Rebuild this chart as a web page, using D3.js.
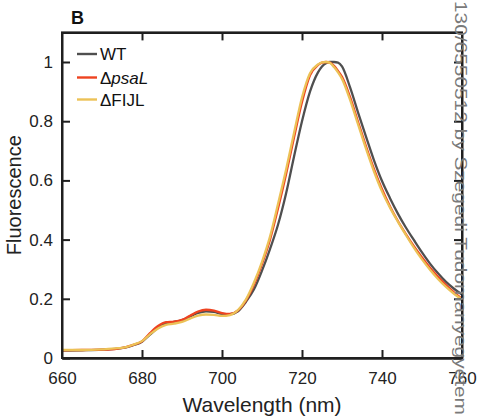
<!DOCTYPE html>
<html>
<head>
<meta charset="utf-8">
<script src="https://cdn.jsdelivr.net/npm/d3@7"></script>
<style>
  html, body { margin: 0; padding: 0; background: #fff; }
  svg { display: block; font-family: "Liberation Sans", Arial, sans-serif; }
</style>
</head>
<body>
<svg id="chart" width="481" height="417"></svg>
<script>
// ---- data ----
const wavelengths = [660,665,670,674,676,678,680,682,684,686,688,690,692,694,696,698,700,702,704,706,708,710,712,714,716,718,720,722,724,725,726,727,728,729,730,732,734,736,738,740,742,744,746,748,750,752,754,756,758,760];
const wt    = [0.025,0.026,0.028,0.032,0.036,0.044,0.055,0.079,0.102,0.117,0.122,0.128,0.140,0.152,0.158,0.156,0.149,0.148,0.158,0.190,0.232,0.295,0.368,0.450,0.555,0.680,0.800,0.900,0.965,0.985,0.996,1.000,1.000,0.998,0.985,0.915,0.830,0.748,0.668,0.598,0.540,0.487,0.440,0.398,0.357,0.319,0.286,0.257,0.234,0.214];
const psaL  = [0.026,0.027,0.028,0.032,0.037,0.045,0.056,0.084,0.108,0.121,0.123,0.129,0.143,0.157,0.163,0.160,0.152,0.149,0.161,0.195,0.248,0.318,0.400,0.505,0.620,0.745,0.865,0.955,0.990,0.998,1.000,0.998,0.987,0.970,0.950,0.882,0.798,0.715,0.638,0.570,0.512,0.462,0.418,0.377,0.340,0.305,0.274,0.246,0.222,0.200];
const fijl  = [0.027,0.027,0.029,0.033,0.037,0.046,0.057,0.080,0.100,0.112,0.116,0.122,0.133,0.143,0.147,0.146,0.142,0.145,0.162,0.198,0.255,0.325,0.410,0.520,0.635,0.760,0.880,0.962,0.992,0.999,1.000,0.997,0.983,0.965,0.943,0.873,0.790,0.707,0.630,0.563,0.508,0.460,0.415,0.372,0.333,0.298,0.267,0.240,0.217,0.197];
const seriesNames = ["WT", "psaL", "FIJL"];
const xTicks = [660, 680, 700, 720, 740, 760];
const yTicks = [0, 0.2, 0.4, 0.6, 0.8, 1];
const yTickLabels = ["0", "0.2", "0.4", "0.6", "0.8", "1"];
const watermark = "130/6550512 by Szegedi Tudomanyegyetem";

const colors = { WT: "#4f4f4f", psaL: "#ee4320", FIJL: "#ecc257" };
const seriesData = { WT: wt, psaL: psaL, FIJL: fijl };

const svg = d3.select("#chart");
const L = 62, R = 462, T = 32.4, B = 358;
const x = d3.scaleLinear().domain([660, 760]).range([L, R]);
const y = d3.scaleLinear().domain([0, 1.1]).range([B, T]);

// curves
const line = d3.line()
  .x((d, i) => x(wavelengths[i]))
  .y(d => y(d))
  .curve(d3.curveMonotoneX);

const curves = svg.append("g");
seriesNames.forEach(name => {
  curves.append("path")
    .attr("d", line(seriesData[name]))
    .attr("fill", "none")
    .attr("stroke", colors[name])
    .attr("stroke-width", 2.3)
    .attr("stroke-linejoin", "round");
});

// axes
const axisColor = "#1f1f1f";
function styleAxis(g) {
  g.select(".domain").attr("stroke", axisColor).attr("stroke-width", 2);
  g.selectAll(".tick line").attr("stroke", axisColor).attr("stroke-width", 2);
  g.selectAll(".tick text").attr("fill", "#222").style("font-size", "17px")
    .style("font-family", "'Liberation Sans', Arial, sans-serif");
}

const innerX = xTicks.filter(t => t > 660 && t < 760);

svg.append("g").attr("transform", `translate(0,${B})`)
  .call(d3.axisBottom(x).tickValues(xTicks).tickSizeInner(0).tickSizeOuter(0).tickPadding(14).tickFormat(d3.format("d")))
  .call(styleAxis)
  .call(g => g.selectAll(".tick line").remove())
  .call(g => g.selectAll(".tick text").attr("dy", "0.71em"));

svg.append("g").attr("transform", `translate(0,${B})`)
  .call(d3.axisBottom(x).tickValues(innerX).tickSizeInner(-8).tickSizeOuter(0).tickFormat(""))
  .call(styleAxis);

svg.append("g").attr("transform", `translate(0,${T})`)
  .call(d3.axisTop(x).tickValues(innerX).tickSizeInner(-8).tickSizeOuter(0).tickFormat(""))
  .call(styleAxis);

svg.append("g").attr("transform", `translate(${L},0)`)
  .call(d3.axisLeft(y).tickValues(yTicks).tickSizeInner(-8).tickSizeOuter(0).tickPadding(9)
    .tickFormat((d, i) => yTickLabels[i]))
  .call(styleAxis)
  .call(g => g.selectAll(".tick text").attr("x", -9));

svg.append("g").attr("transform", `translate(${R},0)`)
  .call(d3.axisRight(y).tickValues(yTicks).tickSizeInner(-8).tickSizeOuter(0).tickFormat(""))
  .call(styleAxis);

// box outline
svg.append("rect")
  .attr("x", L).attr("y", T).attr("width", R - L).attr("height", B - T)
  .attr("fill", "none").attr("stroke", axisColor).attr("stroke-width", 2);

// axis titles
svg.append("text")
  .attr("x", (L + R) / 2).attr("y", 412)
  .attr("text-anchor", "middle")
  .style("font-size", "21px").attr("fill", "#222")
  .text("Wavelength (nm)");

svg.append("text")
  .attr("transform", `translate(21,${(T + B) / 2}) rotate(-90)`)
  .attr("text-anchor", "middle")
  .style("font-size", "20px").attr("fill", "#222")
  .text("Fluorescence");

// panel label
svg.append("text")
  .attr("x", 71).attr("y", 23.5)
  .style("font-size", "18px").style("font-weight", "bold").attr("fill", "#111")
  .text("B");

// legend
const legend = svg.append("g");
const legY = [54, 77.5, 99.5];
seriesNames.forEach((name, i) => {
  legend.append("line")
    .attr("x1", 77).attr("x2", 97)
    .attr("y1", legY[i]).attr("y2", legY[i])
    .attr("stroke", colors[name]).attr("stroke-width", 2.4);
  const t = legend.append("text")
    .attr("x", 100).attr("y", legY[i] + 6)
    .style("font-size", "17px").attr("fill", "#111");
  if (name === "WT") {
    t.text("WT");
  } else if (name === "psaL") {
    t.append("tspan").text("\u0394");
    t.append("tspan").style("font-style", "italic").text("psaL");
  } else {
    t.append("tspan").text("\u0394FIJL");
  }
});

// watermark
svg.append("text")
  .attr("transform", "translate(455,1) rotate(90)")
  .attr("x", 0).attr("y", 0)
  .attr("textLength", 414).attr("lengthAdjust", "spacingAndGlyphs")
  .style("font-size", "17px").attr("fill", "#7a7a7a")
  .text(watermark);
</script>
</body>
</html>
